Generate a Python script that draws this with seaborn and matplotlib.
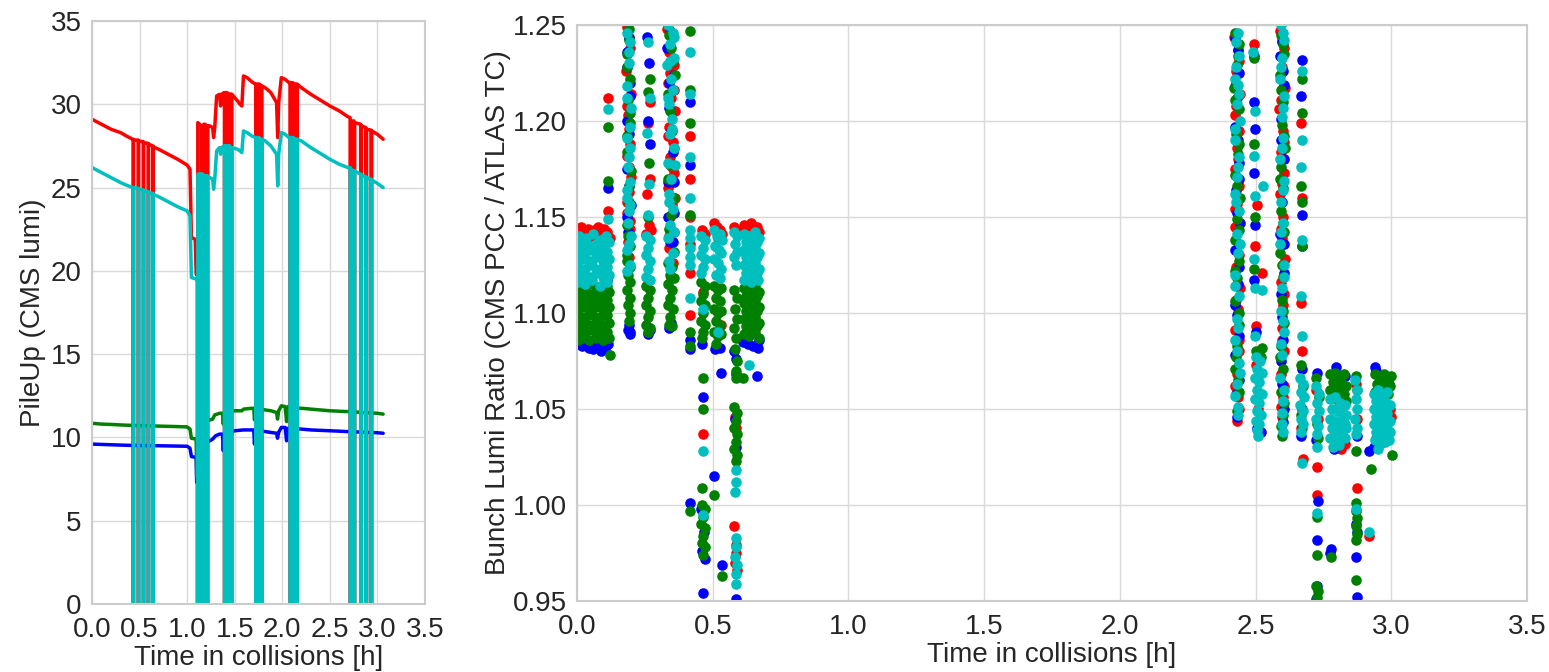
import matplotlib
matplotlib.use("Agg")
import matplotlib.pyplot as plt
import numpy as np
import pandas as pd
import seaborn as sns

# ---------------------------------------------------------------- pile-up per bunch (time [h], pile-up)
RED_LINE = [
    (0.000, 29.1), (0.050, 28.95), (0.100, 28.8), (0.150, 28.65), (0.200, 28.5), (0.250, 28.4),
    (0.300, 28.3), (0.360, 28.1), (0.428, 27.9),
    (0.434, 27.9), (0.434, 0), (0.436, 0), (0.436, 27.85),
    (0.487, 27.85), (0.487, 0), (0.489, 0), (0.489, 27.8),
    (0.540, 27.75), (0.540, 0), (0.542, 0), (0.542, 27.7),
    (0.592, 27.65), (0.592, 0), (0.594, 0), (0.594, 27.6),
    (0.640, 27.5), (0.640, 0), (0.642, 0), (0.642, 27.45),
    (0.700, 27.3), (0.800, 27.0), (0.900, 26.7), (1.000, 26.35), (1.030, 26.1), (1.045, 22.0),
    (1.085, 21.9), (1.095, 19.8), (1.106, 19.8),
    (1.108, 19.8), (1.108, 0), (1.112, 0), (1.112, 28.9), (1.150, 28.7), (1.150, 0), (1.153, 0),
    (1.153, 28.7), (1.172, 28.7), (1.172, 0), (1.175, 0), (1.175, 28.8), (1.190, 28.8), (1.190, 0),
    (1.193, 0), (1.193, 28.7), (1.213, 28.7), (1.213, 0), (1.216, 0), (1.216, 28.7),
    (1.240, 28.7), (1.268, 28.6), (1.278, 28.0), (1.290, 28.6), (1.310, 30.5), (1.340, 30.6),
    (1.352, 29.9), (1.362, 30.6), (1.388, 30.7),
    (1.392, 30.7), (1.392, 0), (1.398, 0), (1.398, 30.7), (1.406, 30.7), (1.406, 0), (1.412, 0),
    (1.412, 30.7), (1.420, 30.7), (1.420, 0), (1.426, 0), (1.426, 30.6), (1.434, 30.6), (1.434, 0),
    (1.440, 0), (1.440, 30.6), (1.448, 30.6), (1.448, 0), (1.454, 0), (1.454, 30.6), (1.462, 30.6),
    (1.462, 0), (1.470, 0), (1.470, 30.6),
    (1.500, 30.4), (1.530, 30.2), (1.556, 30.0), (1.575, 29.9), (1.592, 31.7), (1.630, 31.6),
    (1.680, 31.35), (1.718, 31.2),
    (1.722, 31.2), (1.722, 0), (1.728, 0), (1.728, 31.2), (1.736, 31.2), (1.736, 0), (1.742, 0),
    (1.742, 31.2), (1.750, 31.2), (1.750, 0), (1.756, 0), (1.756, 31.2), (1.764, 31.2), (1.764, 0),
    (1.770, 0), (1.770, 31.1), (1.778, 31.1), (1.778, 0), (1.786, 0), (1.786, 31.1),
    (1.820, 31.0), (1.880, 30.7), (1.940, 30.1), (1.952, 28.0), (1.962, 30.1), (1.990, 31.6),
    (2.030, 31.5), (2.070, 31.3),
    (2.082, 31.3), (2.082, 0), (2.088, 0), (2.088, 31.3), (2.096, 31.3), (2.096, 0), (2.102, 0),
    (2.102, 31.3), (2.110, 31.3), (2.110, 0), (2.116, 0), (2.116, 31.2), (2.124, 31.2), (2.124, 0),
    (2.130, 0), (2.130, 31.2), (2.138, 31.2), (2.138, 0), (2.144, 0), (2.144, 31.2), (2.150, 31.2),
    (2.150, 0), (2.158, 0), (2.158, 31.2),
    (2.200, 31.0), (2.300, 30.6), (2.400, 30.25), (2.500, 29.9), (2.600, 29.6), (2.690, 29.25),
    (2.713, 29.2), (2.713, 0), (2.721, 0), (2.721, 29.0), (2.753, 29.0), (2.753, 0), (2.761, 0),
    (2.761, 28.9), (2.824, 28.8), (2.824, 0), (2.832, 0), (2.832, 28.7), (2.878, 28.6), (2.878, 0),
    (2.886, 0), (2.886, 28.5), (2.932, 28.45), (2.932, 0), (2.940, 0), (2.940, 28.4),
    (3.000, 28.2), (3.060, 27.9),
]

CYAN_LINE = [
    (0.000, 26.2), (0.050, 26.05), (0.100, 25.9), (0.150, 25.75), (0.200, 25.6), (0.250, 25.45),
    (0.300, 25.3), (0.360, 25.15), (0.428, 25.0),
    (0.434, 25.0), (0.434, 0), (0.438, 0), (0.438, 25.0),
    (0.487, 24.95), (0.487, 0), (0.491, 0), (0.491, 24.9),
    (0.540, 24.85), (0.540, 0), (0.544, 0), (0.544, 24.8),
    (0.592, 24.75), (0.592, 0), (0.596, 0), (0.596, 24.7),
    (0.640, 24.65), (0.640, 0), (0.644, 0), (0.644, 24.6),
    (0.700, 24.45), (0.800, 24.15), (0.900, 23.85), (1.000, 23.6), (1.030, 23.3), (1.045, 19.6),
    (1.100, 19.5), (1.106, 19.4),
    (1.108, 19.4), (1.108, 0), (1.112, 0), (1.112, 25.8), (1.122, 25.8), (1.122, 0), (1.126, 0),
    (1.126, 25.8), (1.136, 25.8), (1.136, 0), (1.140, 0), (1.140, 25.8), (1.150, 25.8), (1.150, 0),
    (1.154, 0), (1.154, 25.8), (1.164, 25.8), (1.164, 0), (1.168, 0), (1.168, 25.7), (1.182, 25.7),
    (1.190, 25.7), (1.190, 0), (1.194, 0), (1.194, 25.7), (1.205, 25.7), (1.205, 0), (1.209, 0),
    (1.209, 25.7),
    (1.240, 25.6), (1.268, 25.5), (1.278, 24.9), (1.290, 25.5), (1.310, 27.2), (1.340, 27.4),
    (1.352, 27.0), (1.362, 27.4), (1.388, 27.5),
    (1.392, 27.5), (1.392, 0), (1.398, 0), (1.398, 27.5), (1.406, 27.5), (1.406, 0), (1.412, 0),
    (1.412, 27.5), (1.420, 27.5), (1.420, 0), (1.426, 0), (1.426, 27.5), (1.434, 27.5), (1.434, 0),
    (1.440, 0), (1.440, 27.5), (1.448, 27.5), (1.448, 0), (1.454, 0), (1.454, 27.4), (1.462, 27.4),
    (1.462, 0), (1.470, 0), (1.470, 27.4),
    (1.500, 27.35), (1.530, 27.3), (1.556, 27.2), (1.575, 27.1), (1.592, 28.4), (1.630, 28.3),
    (1.680, 28.1), (1.718, 28.0),
    (1.722, 28.0), (1.722, 0), (1.728, 0), (1.728, 28.0), (1.736, 28.0), (1.736, 0), (1.742, 0),
    (1.742, 28.0), (1.750, 28.0), (1.750, 0), (1.756, 0), (1.756, 28.0), (1.764, 27.9), (1.764, 0),
    (1.770, 0), (1.770, 27.9), (1.778, 27.9), (1.778, 0), (1.786, 0), (1.786, 27.9),
    (1.820, 27.8), (1.880, 27.5), (1.940, 27.0), (1.952, 25.1), (1.962, 27.0), (1.990, 28.3),
    (2.030, 28.2), (2.070, 28.0),
    (2.082, 28.0), (2.082, 0), (2.088, 0), (2.088, 28.0), (2.096, 28.0), (2.096, 0), (2.102, 0),
    (2.102, 28.0), (2.110, 28.0), (2.110, 0), (2.116, 0), (2.116, 28.0), (2.124, 27.9), (2.124, 0),
    (2.130, 0), (2.130, 27.9), (2.138, 27.9), (2.138, 0), (2.144, 0), (2.144, 27.9), (2.150, 27.9),
    (2.150, 0), (2.158, 0), (2.158, 27.9),
    (2.200, 27.8), (2.300, 27.4), (2.400, 27.05), (2.500, 26.7), (2.600, 26.4), (2.690, 26.2),
    (2.713, 26.2), (2.713, 0), (2.721, 0), (2.721, 26.1), (2.753, 26.0), (2.753, 0), (2.761, 0),
    (2.761, 26.0), (2.824, 25.8), (2.824, 0), (2.832, 0), (2.832, 25.75), (2.878, 25.65), (2.878, 0),
    (2.886, 0), (2.886, 25.6), (2.932, 25.5), (2.932, 0), (2.940, 0), (2.940, 25.45),
    (3.000, 25.25), (3.060, 25.0),
]

GREEN_LINE = [
    (0.000, 10.85), (0.100, 10.8), (0.200, 10.78), (0.300, 10.75), (0.428, 10.72), (0.700, 10.68),
    (0.900, 10.65), (1.000, 10.63), (1.030, 10.5), (1.045, 9.95), (1.095, 9.9), (1.100, 7.7),
    (1.106, 7.7), (1.114, 11.0), (1.213, 11.0), (1.240, 11.05), (1.268, 11.1), (1.290, 11.35),
    (1.340, 11.45), (1.372, 11.45), (1.380, 10.8), (1.388, 11.45), (1.500, 11.6), (1.575, 11.6),
    (1.592, 11.7), (1.680, 11.75), (1.700, 11.75), (1.708, 11.05), (1.716, 11.75), (1.820, 11.65),
    (1.880, 11.6), (1.940, 11.5), (1.950, 11.1), (1.962, 11.6), (1.990, 11.9), (2.030, 11.85),
    (2.045, 10.95), (2.060, 11.85), (2.070, 11.8), (2.200, 11.75), (2.300, 11.7), (2.500, 11.6),
    (2.690, 11.55), (3.000, 11.45), (3.060, 11.4),
]

BLUE_LINE = [
    (0.000, 9.6), (0.100, 9.58), (0.200, 9.56), (0.300, 9.54), (0.428, 9.52), (0.700, 9.5),
    (0.900, 9.48), (1.000, 9.47), (1.030, 9.35), (1.045, 8.85), (1.095, 8.8), (1.100, 7.3),
    (1.106, 7.3), (1.114, 9.75), (1.213, 9.75), (1.240, 9.8), (1.268, 9.9), (1.300, 10.1),
    (1.340, 10.2), (1.372, 10.2), (1.380, 9.2), (1.388, 10.2), (1.500, 10.4), (1.592, 10.45),
    (1.680, 10.45), (1.700, 10.45), (1.708, 9.6), (1.716, 10.45), (1.820, 10.35), (1.880, 10.3),
    (1.940, 10.25), (1.950, 9.95), (1.962, 10.3), (1.990, 10.6), (2.030, 10.6), (2.045, 9.8),
    (2.060, 10.55), (2.070, 10.55), (2.200, 10.5), (2.300, 10.45), (2.500, 10.4), (2.690, 10.35),
    (3.000, 10.28), (3.060, 10.25),
]

# ---------------------------------------------------------------- bunch lumi ratio (time [h], ratio)
RED_PTS = [
    (0.004, 1.143), (0.016, 1.145), (0.028, 1.141), (0.040, 1.144), (0.052, 1.140), (0.064, 1.143),
    (0.076, 1.145), (0.088, 1.141), (0.100, 1.144), (0.112, 1.142), (0.120, 1.139), (0.115, 1.212),
    (0.116, 1.153),
    (0.186, 1.249), (0.195, 1.238), (0.182, 1.226), (0.199, 1.214), (0.188, 1.203), (0.192, 1.196),
    (0.185, 1.182), (0.198, 1.171), (0.190, 1.163), (0.184, 1.152), (0.196, 1.144), (0.188, 1.137),
    (0.193, 1.129), (0.190, 1.244), (0.186, 1.208), (0.196, 1.188), (0.192, 1.176), (0.186, 1.158),
    (0.194, 1.148),
    (0.268, 1.210), (0.262, 1.199), (0.270, 1.170), (0.258, 1.162), (0.265, 1.146), (0.272, 1.143),
    (0.256, 1.141),
    (0.332, 1.248), (0.350, 1.243), (0.340, 1.236), (0.356, 1.229), (0.335, 1.220), (0.348, 1.212),
    (0.360, 1.205), (0.338, 1.197), (0.352, 1.189), (0.344, 1.181), (0.358, 1.173), (0.334, 1.165),
    (0.350, 1.157), (0.342, 1.150), (0.356, 1.142), (0.338, 1.134), (0.352, 1.126), (0.346, 1.118),
    (0.344, 1.225), (0.358, 1.216), (0.336, 1.192), (0.350, 1.176), (0.360, 1.160), (0.340, 1.140),
    (0.416, 1.192), (0.415, 1.170), (0.417, 1.150), (0.416, 1.136), (0.415, 1.121), (0.417, 1.099),
    (0.460, 1.143), (0.470, 1.141), (0.464, 1.111), (0.465, 1.037),
    (0.505, 1.147), (0.515, 1.145), (0.528, 1.143), (0.520, 1.139), (0.535, 1.141), (0.530, 1.094),
    (0.578, 1.145), (0.588, 1.143), (0.583, 1.046), (0.585, 1.040), (0.580, 0.989), (0.586, 0.979),
    (0.584, 0.975), (0.582, 0.970), (0.588, 0.966),
    (0.615, 1.146), (0.628, 1.144), (0.640, 1.147), (0.652, 1.143), (0.664, 1.145), (0.672, 1.142),
    (2.422, 1.244), (2.436, 1.237), (2.428, 1.226), (2.442, 1.214), (2.424, 1.203), (2.438, 1.195),
    (2.430, 1.186), (2.426, 1.175), (2.440, 1.166), (2.432, 1.157), (2.424, 1.145), (2.438, 1.136),
    (2.428, 1.124), (2.442, 1.113), (2.434, 1.102), (2.426, 1.091), (2.438, 1.080), (2.430, 1.068),
    (2.436, 1.056), (2.432, 1.044), (2.440, 1.231), (2.428, 1.208), (2.436, 1.180), (2.424, 1.154),
    (2.440, 1.130), (2.428, 1.107), (2.440, 1.086), (2.426, 1.062), (2.440, 1.050),
    (2.496, 1.240), (2.505, 1.156), (2.499, 1.135), (2.525, 1.121), (2.500, 1.093), (2.502, 1.073),
    (2.510, 1.050),
    (2.590, 1.247), (2.604, 1.238), (2.596, 1.228), (2.608, 1.217), (2.588, 1.206), (2.600, 1.195),
    (2.594, 1.184), (2.606, 1.173), (2.590, 1.162), (2.602, 1.150), (2.596, 1.139), (2.608, 1.128),
    (2.592, 1.116), (2.600, 1.104), (2.596, 1.092), (2.604, 1.080), (2.592, 1.068), (2.600, 1.056),
    (2.596, 1.046), (2.598, 1.242), (2.592, 1.211), (2.604, 1.189), (2.596, 1.167), (2.592, 1.144),
    (2.606, 1.110), (2.598, 1.086), (2.606, 1.062), (2.592, 1.051),
    (2.668, 1.199), (2.670, 1.160), (2.668, 1.105), (2.672, 1.080), (2.668, 1.040), (2.674, 1.024),
    (2.722, 1.060), (2.730, 1.045), (2.726, 1.020), (2.728, 1.005),
    (2.785, 1.040), (2.800, 1.035), (2.815, 1.029), (2.830, 1.032), (2.795, 1.050),
    (2.870, 1.063), (2.872, 1.009), (2.874, 1.045),
    (2.995, 1.050), (3.000, 1.046), (2.985, 1.044), (2.918, 0.984), (2.945, 1.035), (2.970, 1.033),
]

BLUE_PTS = [
    (0.004, 1.084), (0.018, 1.083), (0.032, 1.085), (0.046, 1.082), (0.060, 1.081), (0.074, 1.083),
    (0.088, 1.080), (0.102, 1.081), (0.116, 1.084), (0.002, 1.118), (0.114, 1.165), (0.112, 1.117),
    (0.192, 1.243), (0.186, 1.228), (0.196, 1.213), (0.190, 1.193), (0.184, 1.175), (0.198, 1.156),
    (0.188, 1.142), (0.192, 1.094), (0.188, 1.091), (0.194, 1.089), (0.186, 1.236), (0.194, 1.220),
    (0.184, 1.200), (0.192, 1.166), (0.186, 1.150), (0.196, 1.090),
    (0.258, 1.244), (0.264, 1.230), (0.262, 1.200), (0.270, 1.188), (0.262, 1.089), (0.270, 1.091),
    (0.344, 1.247), (0.332, 1.238), (0.356, 1.224), (0.340, 1.207), (0.352, 1.184), (0.336, 1.168),
    (0.358, 1.152), (0.344, 1.137), (0.346, 1.095), (0.340, 1.092), (0.350, 1.232), (0.338, 1.220),
    (0.346, 1.195), (0.358, 1.168), (0.334, 1.150), (0.352, 1.137),
    (0.416, 1.210), (0.416, 1.177), (0.415, 1.086), (0.417, 1.081), (0.416, 1.001),
    (0.462, 1.084), (0.466, 1.056), (0.458, 0.998), (0.468, 0.986), (0.462, 0.976), (0.470, 0.972),
    (0.464, 0.954),
    (0.530, 1.069), (0.505, 1.015), (0.535, 0.969), (0.508, 1.081), (0.528, 1.082),
    (0.580, 1.080), (0.586, 1.076), (0.584, 1.068), (0.583, 1.045), (0.587, 1.030), (0.585, 0.951),
    (0.612, 1.085), (0.630, 1.084), (0.650, 1.083), (0.668, 1.082), (0.662, 1.067), (0.672, 1.086),
    (2.426, 1.243), (2.440, 1.225), (2.430, 1.212), (2.424, 1.197), (2.438, 1.178), (2.428, 1.164),
    (2.442, 1.147), (2.426, 1.133), (2.436, 1.115), (2.430, 1.099), (2.424, 1.078), (2.440, 1.065),
    (2.432, 1.046), (2.436, 1.237), (2.424, 1.218), (2.434, 1.190), (2.440, 1.170), (2.430, 1.152),
    (2.440, 1.124), (2.424, 1.104), (2.438, 1.088), (2.428, 1.058),
    (2.496, 1.234), (2.494, 1.210), (2.497, 1.196), (2.495, 1.173), (2.498, 1.146), (2.496, 1.117),
    (2.500, 1.090), (2.505, 1.040), (2.520, 1.038),
    (2.596, 1.241), (2.604, 1.219), (2.592, 1.201), (2.606, 1.180), (2.596, 1.158), (2.590, 1.141),
    (2.604, 1.121), (2.598, 1.098), (2.592, 1.075), (2.606, 1.050), (2.590, 1.234), (2.600, 1.226),
    (2.594, 1.190), (2.602, 1.169), (2.606, 1.136), (2.594, 1.110), (2.600, 1.086), (2.596, 1.063),
    (2.602, 1.043),
    (2.670, 1.232), (2.669, 1.213), (2.671, 1.151), (2.670, 1.135), (2.670, 1.071), (2.666, 1.036),
    (2.672, 1.050),
    (2.727, 1.069), (2.724, 1.034), (2.730, 1.002), (2.726, 0.982), (2.728, 0.958), (2.722, 0.951),
    (2.798, 1.072), (2.830, 1.067), (2.790, 1.029), (2.777, 0.977), (2.776, 0.975),
    (2.872, 1.036), (2.870, 0.990), (2.872, 0.986), (2.871, 0.973), (2.873, 0.952),
    (2.940, 1.072), (2.945, 1.070), (2.968, 1.066), (2.990, 1.063), (2.918, 1.028), (2.935, 1.030),
]

GREEN_PTS = [
    (0.005, 1.114), (0.031, 1.113), (0.057, 1.115), (0.083, 1.112), (0.109, 1.114),
    (0.018, 1.111), (0.044, 1.110), (0.070, 1.111), (0.096, 1.110), (0.118, 1.111),
    (0.005, 1.107), (0.031, 1.106), (0.057, 1.107), (0.083, 1.106), (0.109, 1.107),
    (0.018, 1.103), (0.044, 1.102), (0.070, 1.103), (0.096, 1.102), (0.118, 1.103),
    (0.005, 1.099), (0.031, 1.098), (0.057, 1.099), (0.083, 1.098), (0.109, 1.099),
    (0.018, 1.095), (0.044, 1.094), (0.070, 1.095), (0.096, 1.094), (0.118, 1.095),
    (0.005, 1.091), (0.031, 1.090), (0.057, 1.091), (0.083, 1.090), (0.109, 1.090),
    (0.018, 1.087), (0.044, 1.086), (0.070, 1.087), (0.096, 1.086), (0.118, 1.087),
    (0.113, 1.197), (0.113, 1.169), (0.120, 1.078), (0.002, 1.086),
    (0.190, 1.248), (0.184, 1.235), (0.196, 1.222), (0.188, 1.211), (0.194, 1.199), (0.186, 1.184),
    (0.198, 1.174), (0.190, 1.158), (0.184, 1.146), (0.196, 1.135), (0.186, 1.127), (0.196, 1.124),
    (0.188, 1.120), (0.194, 1.116), (0.186, 1.112), (0.196, 1.108), (0.188, 1.104), (0.194, 1.100),
    (0.190, 1.096), (0.192, 1.242), (0.186, 1.228), (0.196, 1.204), (0.184, 1.192), (0.192, 1.166),
    (0.188, 1.140), (0.184, 1.130),
    (0.268, 1.222), (0.262, 1.215), (0.266, 1.178), (0.260, 1.150), (0.256, 1.114), (0.270, 1.112),
    (0.262, 1.108), (0.256, 1.104), (0.270, 1.101), (0.262, 1.098), (0.256, 1.094), (0.268, 1.092),
    (0.262, 1.090),
    (0.340, 1.245), (0.354, 1.231), (0.336, 1.214), (0.350, 1.195), (0.342, 1.177), (0.356, 1.160),
    (0.338, 1.144), (0.334, 1.126), (0.350, 1.124), (0.342, 1.120), (0.356, 1.118), (0.336, 1.115),
    (0.350, 1.112), (0.344, 1.108), (0.336, 1.104), (0.352, 1.102), (0.344, 1.098), (0.338, 1.094),
    (0.350, 1.093), (0.346, 1.238), (0.360, 1.224), (0.342, 1.205), (0.356, 1.186), (0.334, 1.170),
    (0.348, 1.151), (0.358, 1.132),
    (0.416, 1.247), (0.416, 1.216), (0.415, 1.199), (0.417, 1.151), (0.416, 1.090), (0.415, 1.083),
    (0.416, 0.997),
    (0.458, 1.116), (0.470, 1.114), (0.464, 1.110), (0.458, 1.106), (0.472, 1.104), (0.464, 1.100),
    (0.458, 1.096), (0.470, 1.094), (0.464, 1.090), (0.462, 1.087), (0.464, 1.066), (0.466, 1.050),
    (0.462, 1.009), (0.460, 1.000), (0.470, 0.998), (0.464, 0.994), (0.458, 0.990), (0.470, 0.988),
    (0.464, 0.984), (0.460, 0.980), (0.470, 0.978), (0.464, 0.974),
    (0.505, 1.114), (0.520, 1.112), (0.532, 1.113), (0.512, 1.108), (0.526, 1.106), (0.505, 1.102),
    (0.520, 1.100), (0.532, 1.101), (0.512, 1.096), (0.526, 1.094), (0.505, 1.090), (0.520, 1.088),
    (0.532, 1.089), (0.512, 1.084), (0.506, 1.005), (0.535, 0.963),
    (0.580, 1.112), (0.588, 1.108), (0.582, 1.102), (0.590, 1.097), (0.580, 1.092), (0.586, 1.087),
    (0.582, 1.081), (0.588, 1.075), (0.584, 1.070), (0.586, 1.066), (0.580, 1.051), (0.588, 1.048),
    (0.584, 1.044), (0.580, 1.040), (0.590, 1.037), (0.584, 1.033), (0.580, 1.029), (0.588, 1.026),
    (0.584, 1.023),
    (0.614, 1.113), (0.634, 1.112), (0.654, 1.114), (0.670, 1.111), (0.624, 1.109), (0.644, 1.108),
    (0.662, 1.109), (0.614, 1.105), (0.634, 1.104), (0.654, 1.106), (0.670, 1.103), (0.624, 1.101),
    (0.644, 1.100), (0.662, 1.101), (0.614, 1.097), (0.634, 1.096), (0.654, 1.098), (0.670, 1.095),
    (0.624, 1.093), (0.644, 1.092), (0.662, 1.093), (0.614, 1.089), (0.634, 1.088), (0.654, 1.090),
    (0.670, 1.087), (0.612, 1.066),
    (2.424, 1.246), (2.438, 1.240), (2.430, 1.229), (2.422, 1.217), (2.440, 1.206), (2.428, 1.193),
    (2.436, 1.183), (2.424, 1.172), (2.442, 1.160), (2.430, 1.149), (2.424, 1.138), (2.440, 1.127),
    (2.432, 1.118), (2.426, 1.106), (2.438, 1.094), (2.430, 1.083), (2.424, 1.071), (2.440, 1.059),
    (2.432, 1.049), (2.436, 1.234), (2.426, 1.211), (2.440, 1.188), (2.430, 1.166), (2.438, 1.143),
    (2.424, 1.122), (2.440, 1.100), (2.428, 1.077), (2.436, 1.065),
    (2.494, 1.233), (2.495, 1.188), (2.497, 1.150), (2.496, 1.123), (2.525, 1.082), (2.500, 1.080),
    (2.520, 1.077),
    (2.594, 1.245), (2.606, 1.235), (2.590, 1.224), (2.602, 1.210), (2.596, 1.198), (2.608, 1.186),
    (2.592, 1.176), (2.600, 1.165), (2.594, 1.153), (2.606, 1.142), (2.590, 1.131), (2.602, 1.119),
    (2.596, 1.107), (2.606, 1.095), (2.592, 1.083), (2.600, 1.071), (2.594, 1.059), (2.602, 1.047),
    (2.598, 1.036), (2.600, 1.240), (2.594, 1.216), (2.606, 1.192), (2.590, 1.170), (2.600, 1.147),
    (2.596, 1.125), (2.602, 1.101), (2.590, 1.077), (2.604, 1.053), (2.594, 1.041),
    (2.670, 1.222), (2.671, 1.204), (2.669, 1.166), (2.670, 1.158), (2.670, 1.135), (2.669, 1.073),
    (2.674, 1.062), (2.666, 1.047), (2.672, 1.040),
    (2.722, 1.066), (2.732, 1.056), (2.726, 1.042), (2.730, 1.035), (2.727, 0.994), (2.728, 0.974),
    (2.724, 0.958), (2.730, 0.955), (2.726, 0.952), (2.728, 0.950),
    (2.776, 1.068), (2.792, 1.069), (2.808, 1.067), (2.824, 1.068), (2.784, 1.064), (2.800, 1.063),
    (2.816, 1.064), (2.832, 1.062), (2.776, 1.060), (2.792, 1.059), (2.808, 1.060), (2.824, 1.058),
    (2.784, 1.056), (2.800, 1.055), (2.816, 1.056), (2.832, 1.054), (2.777, 0.973),
    (2.870, 1.067), (2.872, 1.060), (2.870, 1.028), (2.871, 1.001), (2.869, 0.997), (2.873, 0.993),
    (2.870, 0.989), (2.872, 0.985), (2.870, 0.982), (2.869, 0.961),
    (2.940, 1.068), (2.956, 1.067), (2.972, 1.068), (2.988, 1.066), (3.000, 1.067), (2.948, 1.063),
    (2.964, 1.062), (2.980, 1.063), (2.996, 1.062), (2.940, 1.059), (2.956, 1.058), (2.972, 1.059),
    (2.988, 1.058), (2.925, 1.019), (3.003, 1.026),
]

CYAN_PTS = [
    (0.006, 1.140), (0.032, 1.139), (0.058, 1.141), (0.084, 1.138), (0.108, 1.140),
    (0.018, 1.136), (0.044, 1.135), (0.070, 1.136), (0.096, 1.135), (0.118, 1.137),
    (0.005, 1.132), (0.031, 1.131), (0.057, 1.133), (0.083, 1.131), (0.109, 1.132),
    (0.018, 1.128), (0.044, 1.127), (0.070, 1.129), (0.096, 1.127), (0.118, 1.128),
    (0.005, 1.124), (0.031, 1.123), (0.057, 1.125), (0.083, 1.123), (0.109, 1.124),
    (0.018, 1.120), (0.044, 1.119), (0.070, 1.121), (0.096, 1.119), (0.118, 1.120),
    (0.005, 1.116), (0.031, 1.115), (0.057, 1.117), (0.083, 1.114), (0.109, 1.116),
    (0.114, 1.206), (0.115, 1.149),
    (0.184, 1.246), (0.196, 1.241), (0.190, 1.230), (0.186, 1.218), (0.198, 1.207), (0.184, 1.191),
    (0.194, 1.186), (0.188, 1.176), (0.196, 1.168), (0.184, 1.160), (0.192, 1.153), (0.188, 1.147),
    (0.198, 1.140), (0.186, 1.133), (0.194, 1.125), (0.192, 1.236), (0.186, 1.212), (0.196, 1.197),
    (0.190, 1.181), (0.186, 1.164), (0.196, 1.156), (0.190, 1.136), (0.186, 1.122),
    (0.262, 1.241), (0.268, 1.212), (0.258, 1.194), (0.266, 1.167), (0.262, 1.151), (0.255, 1.140),
    (0.270, 1.138), (0.262, 1.134), (0.256, 1.130), (0.270, 1.127), (0.262, 1.123), (0.256, 1.119),
    (0.268, 1.117),
    (0.336, 1.250), (0.352, 1.246), (0.344, 1.240), (0.358, 1.233), (0.330, 1.229), (0.346, 1.222),
    (0.354, 1.216), (0.338, 1.209), (0.350, 1.201), (0.342, 1.193), (0.356, 1.186), (0.336, 1.178),
    (0.348, 1.170), (0.340, 1.162), (0.354, 1.154), (0.344, 1.146), (0.336, 1.139), (0.352, 1.131),
    (0.344, 1.123), (0.358, 1.244), (0.342, 1.231), (0.334, 1.212), (0.350, 1.196), (0.360, 1.177),
    (0.340, 1.158), (0.356, 1.142), (0.340, 1.127),
    (0.416, 1.236), (0.415, 1.214), (0.417, 1.181), (0.416, 1.160), (0.415, 1.143), (0.417, 1.139),
    (0.415, 1.134), (0.417, 1.129), (0.416, 1.125), (0.416, 1.108),
    (0.458, 1.140), (0.470, 1.138), (0.464, 1.134), (0.458, 1.130), (0.472, 1.128), (0.464, 1.124),
    (0.458, 1.121), (0.466, 1.102), (0.466, 1.028), (0.463, 0.995),
    (0.505, 1.143), (0.515, 1.140), (0.525, 1.141), (0.535, 1.138), (0.510, 1.135), (0.522, 1.133),
    (0.532, 1.131), (0.505, 1.128), (0.518, 1.126), (0.530, 1.123), (0.512, 1.120), (0.526, 1.118),
    (0.520, 1.090),
    (0.578, 1.142), (0.588, 1.140), (0.582, 1.136), (0.590, 1.132), (0.578, 1.129), (0.586, 1.125),
    (0.584, 1.018), (0.586, 1.012), (0.582, 1.007), (0.584, 0.983), (0.586, 0.978), (0.582, 0.973),
    (0.588, 0.969), (0.584, 0.964), (0.586, 0.959),
    (0.614, 1.141), (0.634, 1.140), (0.654, 1.142), (0.670, 1.139), (0.624, 1.137), (0.644, 1.136),
    (0.662, 1.137), (0.614, 1.133), (0.634, 1.132), (0.654, 1.134), (0.670, 1.131), (0.624, 1.129),
    (0.644, 1.128), (0.662, 1.129), (0.614, 1.125), (0.634, 1.124), (0.654, 1.126), (0.670, 1.123),
    (0.624, 1.121), (0.644, 1.120), (0.662, 1.121), (0.614, 1.117), (0.640, 1.116), (0.668, 1.117),
    (0.634, 1.073),
    (2.428, 1.241), (2.440, 1.234), (2.424, 1.222), (2.436, 1.219), (2.430, 1.209), (2.442, 1.200),
    (2.426, 1.190), (2.438, 1.181), (2.432, 1.171), (2.424, 1.162), (2.440, 1.153), (2.430, 1.141),
    (2.436, 1.131), (2.426, 1.120), (2.440, 1.109), (2.432, 1.097), (2.424, 1.086), (2.438, 1.074),
    (2.430, 1.063), (2.436, 1.051), (2.434, 1.246), (2.428, 1.228), (2.440, 1.214), (2.426, 1.196),
    (2.436, 1.176), (2.428, 1.158), (2.442, 1.136), (2.426, 1.114), (2.436, 1.092), (2.430, 1.080),
    (2.442, 1.069), (2.426, 1.057), (2.434, 1.047),
    (2.492, 1.236), (2.497, 1.205), (2.494, 1.182), (2.526, 1.166), (2.497, 1.161), (2.495, 1.128),
    (2.498, 1.113), (2.525, 1.112), (2.497, 1.088),
    (2.500, 1.077), (2.516, 1.075), (2.506, 1.071), (2.522, 1.069), (2.498, 1.066), (2.514, 1.064),
    (2.506, 1.060), (2.522, 1.058), (2.498, 1.055), (2.514, 1.053), (2.506, 1.049), (2.520, 1.047),
    (2.500, 1.044), (2.514, 1.042), (2.506, 1.039), (2.510, 1.036),
    (2.592, 1.250), (2.604, 1.242), (2.598, 1.233), (2.590, 1.222), (2.606, 1.213), (2.596, 1.202),
    (2.602, 1.191), (2.590, 1.180), (2.606, 1.169), (2.594, 1.158), (2.602, 1.147), (2.590, 1.136),
    (2.604, 1.125), (2.596, 1.113), (2.592, 1.101), (2.604, 1.090), (2.596, 1.078), (2.590, 1.066),
    (2.602, 1.054), (2.596, 1.042), (2.600, 1.246), (2.594, 1.228), (2.602, 1.207), (2.596, 1.186),
    (2.600, 1.164), (2.594, 1.142), (2.606, 1.119), (2.600, 1.096), (2.592, 1.084), (2.604, 1.060),
    (2.598, 1.048), (2.600, 1.038),
    (2.670, 1.226), (2.671, 1.190), (2.669, 1.176), (2.670, 1.138), (2.669, 1.109), (2.670, 1.088),
    (2.664, 1.066), (2.676, 1.063), (2.668, 1.059), (2.678, 1.056), (2.664, 1.052), (2.674, 1.049),
    (2.668, 1.045), (2.676, 1.042), (2.666, 1.038), (2.672, 1.022),
    (2.722, 1.062), (2.732, 1.058), (2.726, 1.053), (2.734, 1.049), (2.722, 1.045), (2.730, 1.041),
    (2.726, 1.037), (2.728, 1.030), (2.727, 0.996),
    (2.774, 1.055), (2.792, 1.056), (2.810, 1.053), (2.828, 1.052), (2.782, 1.050), (2.800, 1.049),
    (2.818, 1.048), (2.834, 1.047), (2.774, 1.045), (2.792, 1.044), (2.810, 1.043), (2.828, 1.042),
    (2.782, 1.040), (2.800, 1.039), (2.818, 1.038), (2.834, 1.040), (2.774, 1.035), (2.792, 1.034),
    (2.810, 1.036), (2.828, 1.035), (2.786, 1.030), (2.806, 1.031),
    (2.868, 1.065), (2.874, 1.060), (2.870, 1.055), (2.874, 1.050), (2.868, 1.045), (2.872, 1.040),
    (2.870, 1.037), (2.871, 0.998),
    (2.935, 1.058), (2.952, 1.060), (2.968, 1.057), (2.985, 1.059), (2.944, 1.054), (2.960, 1.053),
    (2.977, 1.054), (2.994, 1.052), (2.935, 1.050), (2.952, 1.049), (2.968, 1.050), (2.985, 1.048),
    (2.944, 1.046), (2.960, 1.045), (2.977, 1.045), (2.994, 1.044), (2.935, 1.042), (2.952, 1.041),
    (2.968, 1.041), (2.985, 1.040), (2.944, 1.038), (2.960, 1.037), (2.977, 1.036), (2.994, 1.038),
    (2.940, 1.034), (2.958, 1.032), (2.975, 1.033), (2.990, 1.034), (2.950, 1.029), (2.918, 0.986),
]

SERIES_COLORS = {"red": "#ff0000", "blue": "#0000ff", "green": "#008000", "cyan": "#00bfbf"}
LINES = [("red", RED_LINE), ("blue", BLUE_LINE), ("green", GREEN_LINE), ("cyan", CYAN_LINE)]
POINTS = [("red", RED_PTS), ("blue", BLUE_PTS), ("green", GREEN_PTS), ("cyan", CYAN_PTS)]

LEFT_YTICKS = [0, 5, 10, 15, 20, 25, 30, 35]
RIGHT_YTICKS = [0.95, 1.00, 1.05, 1.10, 1.15, 1.20, 1.25]
XTICKS = [0.0, 0.5, 1.0, 1.5, 2.0, 2.5, 3.0, 3.5]

sns.set_style("whitegrid")
plt.rcParams["font.family"] = ["Liberation Sans", "DejaVu Sans"]
plt.rcParams["axes.edgecolor"] = "0.8"
plt.rcParams["axes.linewidth"] = 1.5
plt.rcParams["grid.color"] = "0.85"
plt.rcParams["grid.linewidth"] = 1.0

W, H = 1549, 672
fig = plt.figure(figsize=(W / 100, H / 100), dpi=100)
ax1 = fig.add_axes([92 / W, 68 / H, 333 / W, 583 / H])
ax2 = fig.add_axes([577 / W, 71 / H, 950 / W, 576 / H])

for name, pts in LINES:
    df = pd.DataFrame(pts, columns=["t", "v"])
    sns.lineplot(data=df, x="t", y="v", sort=False, estimator=None,
                 color=SERIES_COLORS[name], lw=2.5, ax=ax1)

for name, pts in POINTS:
    df = pd.DataFrame(pts, columns=["t", "r"])
    sns.scatterplot(data=df, x="t", y="r", color=SERIES_COLORS[name], s=58,
                    linewidth=0, ax=ax2)

FS = 20
for ax, yt, fmt in [(ax1, LEFT_YTICKS, "{:d}"), (ax2, RIGHT_YTICKS, "{:.2f}")]:
    ax.set_xlim(0, 3.5)
    ax.set_xticks(XTICKS)
    ax.set_xticklabels(["{:.1f}".format(v) for v in XTICKS])
    ax.set_yticks(yt)
    ax.set_yticklabels([fmt.format(v) for v in yt])
    ax.tick_params(labelsize=FS, colors="0.15", length=0)
    ax.tick_params(axis="x", pad=9.5)
    ax.tick_params(axis="y", pad=7.5)
    ax.set_xlabel("Time in collisions [h]", fontsize=FS, color="0.15", labelpad=1.5)
    ax.grid(True)
    for s in ax.spines.values():
        s.set_color("0.8")

ax1.set_ylim(0, 35)
ax2.set_ylim(0.95, 1.25)
ax1.set_ylabel("PileUp (CMS lumi)", fontsize=FS, color="0.15", labelpad=3)
ax2.set_ylabel("Bunch Lumi Ratio (CMS PCC / ATLAS TC)", fontsize=FS, color="0.15", labelpad=1)

fig.savefig("out.png", dpi=100)
